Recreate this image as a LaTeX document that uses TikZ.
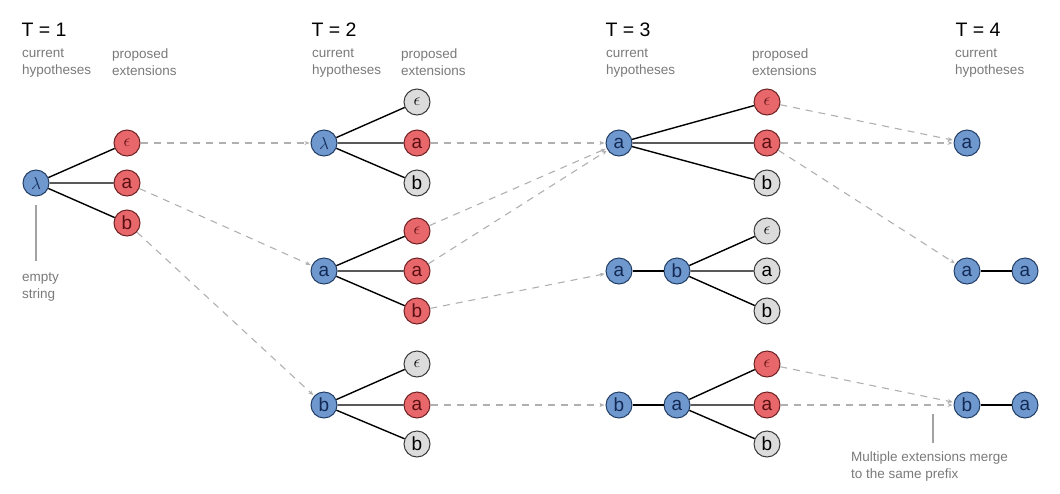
\documentclass[tikz,border=0pt]{standalone}
\usepackage{fontspec}
\setmainfont{Liberation Sans}
\usetikzlibrary{arrows.meta}
\definecolor{bfill}{HTML}{6E98CE}
\definecolor{bdraw}{HTML}{233F66}
\definecolor{btext}{HTML}{142A55}
\definecolor{rfill}{HTML}{E8676B}
\definecolor{rdraw}{HTML}{6E2224}
\definecolor{rtext}{HTML}{5A0F12}
\definecolor{gfill}{HTML}{DCDCDC}
\definecolor{gdraw}{HTML}{3A3A3A}
\definecolor{dashcol}{HTML}{B0B0B0}
\definecolor{lbl}{HTML}{7A7A7A}
\tikzset{
  nd/.style={circle,minimum size=26pt,inner sep=0pt,line width=1pt,font=\fontsize{19}{19}\selectfont},
  hyp/.style={nd,fill=bfill,draw=bdraw,text=btext},
  red/.style={nd,fill=rfill,draw=rdraw,text=rtext},
  gry/.style={nd,fill=gfill,draw=gdraw,text=black},
  edge/.style={line width=1.4pt,black},
  link/.style={draw=dashcol,line width=1.1pt,dash pattern=on 7pt off 6pt,-{Stealth[length=5pt,width=4pt]},shorten >=1pt},
  title/.style={anchor=west,font=\fontsize{19.5}{19.5}\selectfont},
  sub/.style={anchor=north west,align=left,text=lbl,font=\fontsize{13.5}{17}\selectfont,inner sep=0pt},
  note/.style={draw=lbl!70,line width=1.2pt}
}
\begin{document}
\begin{tikzpicture}[x=1pt,y=-1pt]
\useasboundingbox (0,0) rectangle (1060,493);
% headers
\node[title] (t1) at (18,30) {T = 1};
\node[title] (t2) at (308,30) {T = 2};
\node[title] (t3) at (602,30) {T = 3};
\node[title] (t4) at (952,30) {T = 4};
\node[sub] (c1) at (22,49) {current\\hypotheses};
\node[sub] (p1) at (112,49) {proposed\\extensions};
\node[sub] (c2) at (312,49) {current\\hypotheses};
\node[sub] (p2) at (401,49) {proposed\\extensions};
\node[sub] (c3) at (606,49) {current\\hypotheses};
\node[sub] (p3) at (752,49) {proposed\\extensions};
\node[sub] (c4) at (955,49) {current\\hypotheses};
% T=1
\node[hyp] (A) at (36,183) {$\lambda$};
\node[red] (Ae) at (127,143) {$\epsilon$};
\node[red] (Aa) at (127,183) {a};
\node[red] (Ab) at (127,223) {b};
\draw[edge] (A)--(Ae) (A)--(Aa) (A)--(Ab);
% T=2
\node[hyp] (B1) at (324,143) {$\lambda$};
\node[gry] (B1e) at (417,102) {$\epsilon$};
\node[red] (B1a) at (417,143) {a};
\node[gry] (B1b) at (417,183) {b};
\node[hyp] (B2) at (324,271) {a};
\node[red] (B2e) at (417,231) {$\epsilon$};
\node[red] (B2a) at (417,271) {a};
\node[red] (B2b) at (417,311) {b};
\node[hyp] (B3) at (324,405) {b};
\node[gry] (B3e) at (417,364) {$\epsilon$};
\node[red] (B3a) at (417,405) {a};
\node[gry] (B3b) at (417,444) {b};
\foreach \g in {1,2,3}{\draw[edge] (B\g)--(B\g e) (B\g)--(B\g a) (B\g)--(B\g b);}
% T=3
\node[hyp] (C1) at (619,143) {a};
\node[red] (C1e) at (767,102) {$\epsilon$};
\node[red] (C1a) at (767,143) {a};
\node[gry] (C1b) at (767,183) {b};
\node[hyp] (C2p) at (619,271) {a};
\node[hyp] (C2) at (677,271) {b};
\node[gry] (C2e) at (767,231) {$\epsilon$};
\node[gry] (C2a) at (767,271) {a};
\node[gry] (C2b) at (767,311) {b};
\node[hyp] (C3p) at (619,405) {b};
\node[hyp] (C3) at (677,405) {a};
\node[red] (C3e) at (767,364) {$\epsilon$};
\node[red] (C3a) at (767,405) {a};
\node[gry] (C3b) at (767,444) {b};
\draw[edge] (C1)--(C1e) (C1)--(C1a) (C1)--(C1b);
\draw[edge] (C2p)--(C2) (C3p)--(C3);
\foreach \g in {2,3}{\draw[edge] (C\g)--(C\g e) (C\g)--(C\g a) (C\g)--(C\g b);}
% T=4
\node[hyp] (D1) at (967,143) {a};
\node[hyp] (D2) at (967,271) {a};
\node[hyp] (D2a) at (1025,271) {a};
\node[hyp] (D3) at (967,405) {b};
\node[hyp] (D3a) at (1025,405) {a};
\draw[edge] (D2)--(D2a) (D3)--(D3a);
% links
\draw[link] (Ae)--(B1);
\draw[link] (Aa)--(B2);
\draw[link] (Ab)--(B3);
\draw[link] (B1a)--(C1);
\draw[link] (B2e)--(C1);
\draw[link] (B2a)--(C1);
\draw[link] (B2b)--(C2p);
\draw[link] (B3a)--(C3p);
\draw[link] (C1e)--(D1);
\draw[link] (C1a)--(D1);
\draw[link] (C1a)--(D2);
\draw[link] (C3e)--(D3);
\draw[link] (C3a)--(D3);
% notes
\coordinate (n0) at (36,205);
\coordinate (n1) at (36,261);
\draw[note] (n0) -- (n1);
\node[sub] (es) at (22,273) {empty\\string};
\coordinate (m0) at (933,414);
\coordinate (m1) at (933,443);
\draw[note] (m0)--(m1);
\node[sub] (mu) at (851,452) {Multiple extensions merge\\to the same prefix};
\end{tikzpicture}
\end{document}
